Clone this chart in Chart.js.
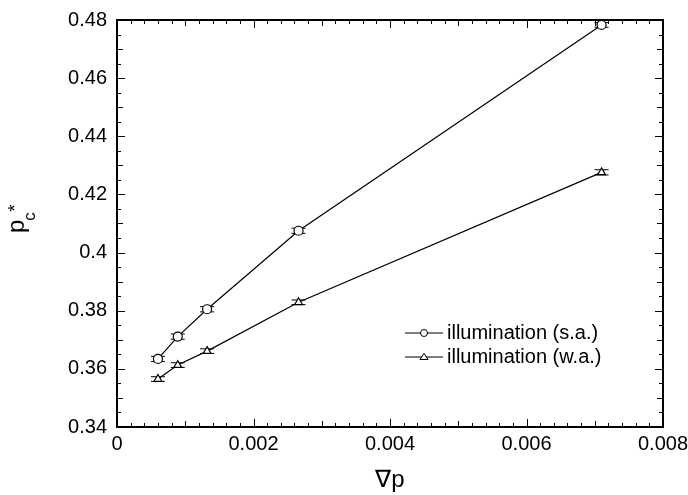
<!DOCTYPE html>
<html>
<head>
<meta charset="utf-8">
<script src="https://cdn.jsdelivr.net/npm/chart.js@4/dist/chart.umd.min.js"></script>
<style>
html,body{margin:0;padding:0;background:#fff;}
#wrap{width:688px;height:495px;position:relative;}
</style>
</head>
<body>
<div id="wrap"><canvas id="c"></canvas></div>
<script>
// ---- data ----
const xValues = [0.0006, 0.00089, 0.00132, 0.00266, 0.0071];
const saValues = [0.3634, 0.3711, 0.3805, 0.4075, 0.4783];
const waValues = [0.3565, 0.3613, 0.3661, 0.3829, 0.4276];
const saErrors = [0.0009, 0.0009, 0.0009, 0.0009, 0.0008];
const waErrors = [0.0008, 0.0008, 0.0008, 0.0008, 0.0009];
const seriesLabels = ['illumination (s.a.)', 'illumination (w.a.)'];
const xTickLabels = ['0', '0.002', '0.004', '0.006', '0.008'];
const yTickLabels = ['0.34', '0.36', '0.38', '0.4', '0.42', '0.44', '0.46', '0.48'];
const xTitle = '\u2207p';
const yTitleMain = 'p', yTitleSub = 'c', yTitleSup = '*';

const FONT = '"Liberation Sans", Arial, Helvetica, sans-serif';

function toPoints(xs, ys) { return xs.map((x, i) => ({x: x, y: ys[i]})); }

const errorsByDataset = [saErrors, waErrors];

const frameAndTicks = {
  id: 'frameAndTicks',
  beforeDatasetsDraw(chart) {
    const ctx = chart.ctx;
    const xs = chart.scales.x, ys = chart.scales.y;
    ctx.save();
    ctx.strokeStyle = '#000';
    ctx.lineWidth = 1;
    chart.data.datasets.forEach((ds, di) => {
      const errs = errorsByDataset[di];
      ds.data.forEach((p, i) => {
        const px = xs.getPixelForValue(p.x);
        const top = ys.getPixelForValue(p.y + errs[i]);
        const bot = ys.getPixelForValue(p.y - errs[i]);
        const cw = 7;
        ctx.beginPath();
        ctx.moveTo(px, top); ctx.lineTo(px, bot);
        ctx.moveTo(px - cw, top); ctx.lineTo(px + cw, top);
        ctx.moveTo(px - cw, bot); ctx.lineTo(px + cw, bot);
        ctx.stroke();
      });
    });
    ctx.restore();
  },
  afterDraw(chart) {
    const ctx = chart.ctx;
    const a = chart.chartArea;
    const xs = chart.scales.x, ys = chart.scales.y;
    ctx.save();
    ctx.strokeStyle = '#000';
    ctx.lineWidth = 1;
    ctx.beginPath();
    for (let k = 0; k <= 40; k++) {
      const v = k * 0.0002;
      const px = Math.round(xs.getPixelForValue(v)) + 0.5;
      const len = (k % 10 === 0) ? 8 : (k % 5 === 0 ? 6 : 4);
      ctx.moveTo(px, a.bottom); ctx.lineTo(px, a.bottom - len);
      ctx.moveTo(px, a.top); ctx.lineTo(px, a.top + len);
    }
    for (let k = 0; k <= 28; k++) {
      const v = 0.34 + k * 0.005;
      const py = Math.round(ys.getPixelForValue(v)) + 0.5;
      const len = (k % 4 === 0) ? 8 : (k % 2 === 0 ? 6 : 4);
      ctx.moveTo(a.left, py); ctx.lineTo(a.left + len, py);
      ctx.moveTo(a.right, py); ctx.lineTo(a.right - len, py);
    }
    ctx.stroke();
    ctx.lineWidth = 2;
    ctx.strokeRect(a.left, a.top, a.right - a.left, a.bottom - a.top);

    ctx.fillStyle = '#000';
    ctx.font = '24px ' + FONT;
    ctx.textAlign = 'center';
    ctx.textBaseline = 'middle';
    ctx.fillText(xTitle, (a.left + a.right) / 2, 480);

    ctx.save();
    ctx.translate(24, 233);
    ctx.rotate(-Math.PI / 2);
    ctx.textAlign = 'left';
    ctx.textBaseline = 'alphabetic';
    ctx.font = '24px ' + FONT;
    ctx.fillText(yTitleMain, 0, 0);
    const pw = ctx.measureText(yTitleMain).width;
    ctx.font = '17px ' + FONT;
    ctx.fillText(yTitleSub, pw - 1, 11);
    ctx.font = '19px ' + FONT;
    ctx.fillText(yTitleSup, pw + 8, -3);
    ctx.restore();

    ctx.font = '20px ' + FONT;
    ctx.textAlign = 'left';
    ctx.textBaseline = 'middle';
    chart.data.datasets.forEach((ds, i) => {
      const y = 333 + i * 24;
      ctx.lineWidth = 1;
      ctx.beginPath();
      ctx.moveTo(405, y); ctx.lineTo(443, y);
      ctx.stroke();
      ctx.fillStyle = '#fff';
      ctx.beginPath();
      if (i === 0) {
        ctx.arc(424, y, 3.5, 0, Math.PI * 2);
      } else {
        ctx.moveTo(424, y - 3.5); ctx.lineTo(428, y + 2.5); ctx.lineTo(420, y + 2.5); ctx.closePath();
      }
      ctx.fill(); ctx.stroke();
      ctx.fillStyle = '#000';
      ctx.fillText(seriesLabels[i], 447, y);
    });
    ctx.restore();
  }
};

new Chart(document.getElementById('c'), {
  type: 'scatter',
  data: {
    datasets: [
      {
        label: seriesLabels[0],
        data: toPoints(xValues, saValues),
        showLine: true,
        borderColor: '#000',
        borderWidth: 1.2,
        pointStyle: 'circle',
        pointRadius: 4.5,
        pointBackgroundColor: '#fff',
        pointBorderColor: '#000',
        pointBorderWidth: 1.2
      },
      {
        label: seriesLabels[1],
        data: toPoints(xValues, waValues),
        showLine: true,
        borderColor: '#000',
        borderWidth: 1.2,
        pointStyle: 'triangle',
        pointRadius: 4.5,
        pointBackgroundColor: '#fff',
        pointBorderColor: '#000',
        pointBorderWidth: 1.2
      }
    ]
  },
  options: {
    responsive: true,
    maintainAspectRatio: false,
    animation: false,
    devicePixelRatio: 1,
    layout: { padding: { top: 20, right: 25, left: 0, bottom: 0 } },
    plugins: { legend: { display: false }, tooltip: { enabled: false } },
    scales: {
      x: {
        type: 'linear',
        min: 0, max: 0.008,
        grid: { display: false, drawTicks: false },
        border: { display: false },
        afterFit(s) { s.height = 68; s.paddingLeft = 0; s.paddingRight = 0; },
        ticks: {
          stepSize: 0.002,
          autoSkip: false,
          maxRotation: 0,
          padding: 5,
          color: '#000',
          font: { family: FONT, size: 20 },
          callback: (v, i) => xTickLabels[i]
        }
      },
      y: {
        type: 'linear',
        min: 0.34, max: 0.48,
        grid: { display: false, drawTicks: false },
        border: { display: false },
        afterFit(s) { s.width = 117; s.paddingTop = 0; s.paddingBottom = 0; },
        ticks: {
          stepSize: 0.02,
          autoSkip: false,
          padding: 10,
          color: '#000',
          font: { family: FONT, size: 20 },
          callback: (v, i) => yTickLabels[i]
        }
      }
    }
  },
  plugins: [frameAndTicks]
});
</script>
</body>
</html>
